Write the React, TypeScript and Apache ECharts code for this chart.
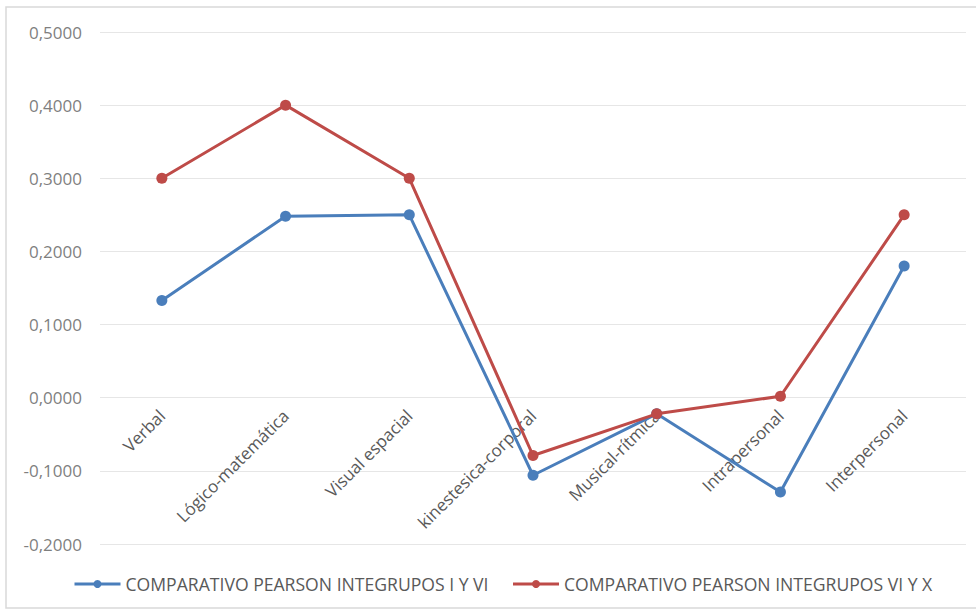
import React, { useEffect, useRef } from "react";
import * as echarts from "echarts";

const categories = [
  "Verbal",
  "Lógico-matemática",
  "Visual espacial",
  "kinestesica-corporal",
  "Musical-rítmica",
  "Intrapersonal",
  "Interpersonal",
];
const seriesNames = [
  "COMPARATIVO PEARSON INTEGRUPOS I Y VI",
  "COMPARATIVO PEARSON INTEGRUPOS VI Y X",
];
const seriesA = [0.133, 0.248, 0.25, -0.106, -0.022, -0.129, 0.18];
const seriesB = [0.3, 0.4, 0.3, -0.079, -0.022, 0.002, 0.25];
const yMin = -0.2;
const yMax = 0.5;
const yInterval = 0.1;

const FONT = "'Open Sans', sans-serif";

export default function App() {
  const ref = useRef<HTMLDivElement>(null);
  useEffect(() => {
    document.body.style.margin = "0";
    const chart = echarts.init(ref.current!, null, { renderer: "svg" });
    const gridTop = 32;
    const gridBottom = 69;
    const plotH = 613 - gridTop - gridBottom;
    const zeroOffset = -plotH * ((0 - yMin) / (yMax - yMin));
    chart.setOption({
      animation: false,
      backgroundColor: "#ffffff",
      textStyle: { fontFamily: FONT },
      graphic: [
        {
          type: "rect",
          shape: { x: 6, y: 7, width: 990, height: 601 },
          style: { fill: "none", stroke: "#d9d9d9", lineWidth: 1.5 },
          silent: true,
        },
      ],
      grid: {
        left: 100,
        right: 10,
        top: gridTop,
        bottom: gridBottom,
        containLabel: false,
        outerBoundsMode: "none",
      },
      legend: {
        bottom: 15,
        left: 68,
        itemWidth: 46,
        itemHeight: 10,
        itemGap: 23,
        lineStyle: { width: 3 },
        textStyle: { color: "#595959", fontSize: 17.6, fontFamily: FONT },
        data: seriesNames,
      },
      xAxis: {
        type: "category",
        data: categories,
        boundaryGap: true,
        offset: zeroOffset,
        axisLine: { show: false, onZero: false },
        axisTick: { show: false },
        axisLabel: {
          rotate: 45,
          margin: 15,
          color: "#595959",
          fontSize: 17,
          fontFamily: FONT,
          interval: 0,
        },
        splitLine: { show: false },
      },
      yAxis: {
        type: "value",
        min: yMin,
        max: yMax,
        interval: yInterval,
        axisLine: { show: false },
        axisTick: { show: false },
        axisLabel: {
          margin: 18,
          color: "#7f7f7f",
          fontSize: 17,
          fontFamily: FONT,
          formatter: (v: number) => v.toFixed(4).replace(".", ","),
        },
        splitLine: { lineStyle: { color: "#e6e6e6", width: 1 } },
      },
      series: [
        {
          name: seriesNames[0],
          type: "line",
          data: seriesA,
          symbol: "circle",
          symbolSize: 11,
          lineStyle: { color: "#4a7ebb", width: 3 },
          itemStyle: { color: "#4a7ebb" },
          z: 3,
        },
        {
          name: seriesNames[1],
          type: "line",
          data: seriesB,
          symbol: "circle",
          symbolSize: 11,
          lineStyle: { color: "#be4b48", width: 3 },
          itemStyle: { color: "#be4b48" },
          z: 4,
        },
      ],
    });
    return () => chart.dispose();
  }, []);
  return <div ref={ref} style={{ width: 976, height: 613 }} />;
}
